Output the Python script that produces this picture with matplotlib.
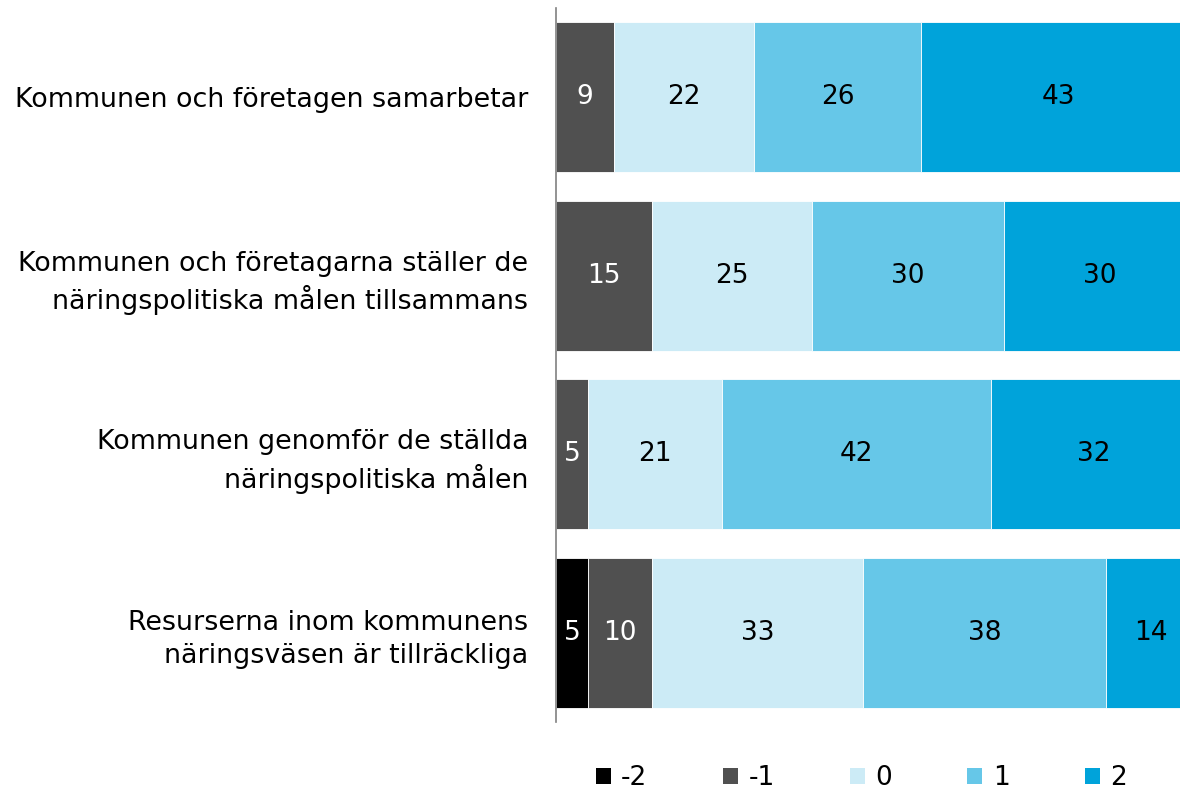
import numpy as np
import matplotlib.pyplot as plt
from matplotlib.patches import Patch

# survey statements, top to bottom
categories = [
    "Kommunen och företagen samarbetar",
    "Kommunen och företagarna ställer de\nnäringspolitiska målen tillsammans",
    "Kommunen genomför de ställda\nnäringspolitiska målen",
    "Resurserna inom kommunens\nnäringsväsen är tillräckliga",
]
levels = ["-2", "-1", "0", "1", "2"]
# share of answers per level, one list per level (same order as categories)
v_m2 = [0, 0, 0, 5]
v_m1 = [9, 15, 5, 10]
v_0 = [22, 25, 21, 33]
v_1 = [26, 30, 42, 38]
v_2 = [43, 30, 32, 14]

series = [v_m2, v_m1, v_0, v_1, v_2]
colors = ["#000000", "#505050", "#CCEBF6", "#66C7E8", "#00A3DA"]
text_colors = ["white", "white", "black", "black", "black"]

fig = plt.figure(figsize=(11.8, 7.92), dpi=100)
# the plot area runs past the right edge, like the original
ax = fig.add_axes([556 / 1180, 1 - 722 / 792, 640 / 1180, 714 / 792])

y = np.arange(len(categories))
left = np.zeros(len(categories))
for vals, col, tcol in zip(series, colors, text_colors):
    vals = np.array(vals, dtype=float)
    ax.barh(y, vals, left=left, height=0.84, color=col, edgecolor="white", linewidth=0.6)
    for yi, (l, v) in enumerate(zip(left, vals)):
        if v > 0:
            ax.text(l + v / 2, yi, f"{v:g}", ha="center", va="center",
                    fontsize=19, color=tcol)
    left += vals

ax.set_xlim(0, 100)
ax.set_ylim(len(categories) - 0.5, -0.5)
ax.set_yticks(y)
ax.set_yticklabels(categories, fontsize=19.4, ha="right", linespacing=1.35)
ax.tick_params(axis="y", length=0, pad=20)
ax.set_xticks([])
for s in ["top", "right", "bottom"]:
    ax.spines[s].set_visible(False)
ax.spines["left"].set_color("#808080")
ax.spines["left"].set_linewidth(1.2)

handles = [Patch(facecolor=c, edgecolor="none") for c in colors]
fig.legend(handles, levels, loc="center", bbox_to_anchor=(0.730, 1 - 778 / 792),
           ncol=5, frameon=False, fontsize=19, handlelength=0.57, handleheight=0.57,
           handletextpad=0.4, columnspacing=2.85)

fig.savefig("out.png", dpi=100)
